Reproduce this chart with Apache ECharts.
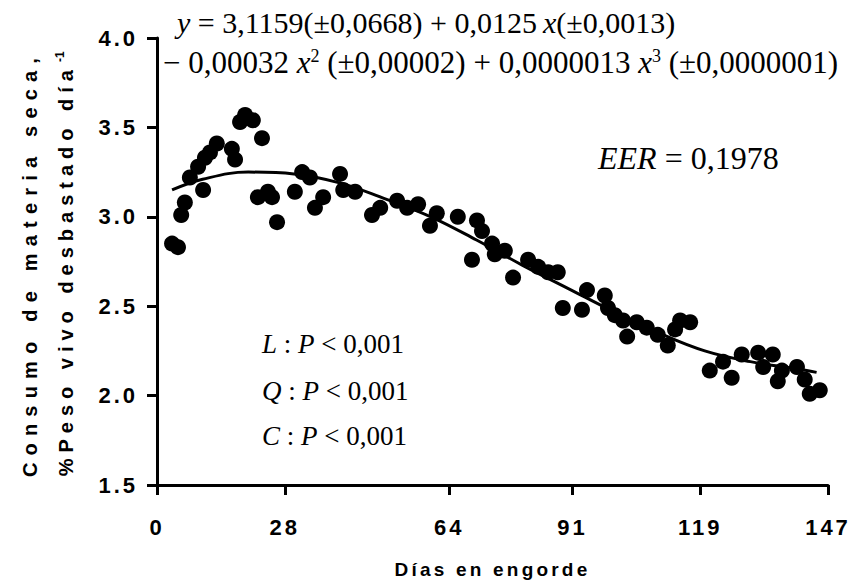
<!DOCTYPE html>
<html>
<head>
<meta charset="utf-8">
<script src="https://cdn.jsdelivr.net/npm/echarts@6/dist/echarts.min.js"></script>
<style>
  html, body { margin: 0; padding: 0; background: #fff; }
  #main { width: 854px; height: 584px; }
</style>
</head>
<body>
<div id="main"></div>
<script>
// días de engorde (x) y consumo de materia seca (y)
var dias = [3.3, 4.6, 5.3, 6.1, 7.2, 9.0, 10.1, 10.5, 11.6, 13.1,
  16.4, 17.1, 18.2, 19.3, 21.0, 23.0, 22.1, 24.3, 25.2, 26.3,
  30.2, 31.8, 33.5, 34.6, 36.4, 40.1, 40.8, 43.4, 47.1, 48.9,
  52.6, 54.8, 57.2, 59.8, 61.3, 65.9, 69.0, 70.1, 71.2, 73.4,
  74.0, 76.2, 78.0, 81.3, 83.5, 85.7, 87.8, 88.9, 93.1, 94.2,
  98.1, 98.8, 100.3, 102.1, 103.0, 105.1, 107.3, 109.7, 111.9, 113.5,
  114.6, 116.8, 121.1, 124.0, 125.9, 128.1, 131.7, 132.8, 134.9, 136.0,
  136.9, 140.2, 141.9, 143.0, 145.2];
var consumo = [2.85, 2.83, 3.01, 3.08, 3.22, 3.28, 3.15, 3.33, 3.36, 3.41,
  3.38, 3.32, 3.53, 3.57, 3.54, 3.44, 3.11, 3.14, 3.11, 2.97,
  3.14, 3.25, 3.22, 3.05, 3.11, 3.24, 3.15, 3.14, 3.01, 3.05,
  3.09, 3.05, 3.07, 2.95, 3.02, 3.00, 2.76, 2.98, 2.92, 2.85,
  2.79, 2.81, 2.66, 2.76, 2.72, 2.69, 2.69, 2.49, 2.48, 2.59,
  2.56, 2.49, 2.45, 2.42, 2.33, 2.41, 2.38, 2.34, 2.28, 2.37,
  2.42, 2.41, 2.14, 2.19, 2.10, 2.23, 2.24, 2.16, 2.23, 2.08,
  2.14, 2.16, 2.09, 2.01, 2.03];

// curva ajustada (cúbica)
var curvaDias = [3.3, 10, 20, 30, 40, 50, 60, 70, 80, 90, 100, 110, 120, 130, 140, 144.5];
var curvaConsumo = [3.15, 3.21, 3.25, 3.24, 3.19, 3.10, 3.00, 2.87, 2.73, 2.60, 2.47, 2.35, 2.25, 2.19, 2.15, 2.13];

var diasTicks = [0, 28, 64, 91, 119, 147];

var SANS = 'Liberation Sans';
var SERIF = 'Liberation Serif';

var puntos = dias.map(function (d, i) { return [d, consumo[i]]; });
var curva = curvaDias.map(function (d, i) { return [d, curvaConsumo[i]]; });

var richEq = {
  i: { fontFamily: SERIF, fontStyle: 'italic', fontSize: 30, fill: '#000' },
  n: { fontFamily: SERIF, fontSize: 30, fill: '#000' },
  sup: { fontFamily: SERIF, fontSize: 17, fill: '#000', verticalAlign: 'top' }
};
var richEq2 = {
  i: { fontFamily: SERIF, fontStyle: 'italic', fontSize: 31, fill: '#000' },
  n: { fontFamily: SERIF, fontSize: 31, fill: '#000' },
  sup: { fontFamily: SERIF, fontSize: 18, fill: '#000', verticalAlign: 'top' }
};
var richEer = {
  i: { fontFamily: SERIF, fontStyle: 'italic', fontSize: 32, fill: '#000' },
  n: { fontFamily: SERIF, fontSize: 32, fill: '#000' }
};
var richP = {
  i: { fontFamily: SERIF, fontStyle: 'italic', fontSize: 27, fill: '#000' },
  n: { fontFamily: SERIF, fontSize: 27, fill: '#000' }
};

var myChart = echarts.init(document.getElementById('main'), null, { renderer: 'svg' });

var option = {
  animation: false,
  backgroundColor: '#fff',
  grid: { left: 157, right: 26, top: 38, bottom: 99, containLabel: false, outerBoundsMode: 'none' },
  xAxis: {
    type: 'value',
    min: 0,
    max: 147,
    name: 'Días en engorde',
    nameLocation: 'middle',
    nameGap: 75,
    nameTextStyle: { fontFamily: SANS, fontWeight: 'bold', fontSize: 19, color: '#000' },
    splitLine: { show: false },
    axisLine: { show: true, lineStyle: { color: '#000', width: 3 } },
    axisTick: { show: true, length: 10, lineStyle: { color: '#000', width: 3 }, customValues: diasTicks },
    axisLabel: {
      customValues: diasTicks,
      margin: 31,
      fontFamily: SANS, fontWeight: 'bold', fontSize: 22, color: '#000'
    }
  },
  yAxis: {
    type: 'value',
    min: 1.5,
    max: 4.0,
    interval: 0.5,
    splitLine: { show: false },
    axisLine: { show: true, lineStyle: { color: '#000', width: 3 } },
    axisTick: { show: true, length: 10, lineStyle: { color: '#000', width: 3 } },
    axisLabel: {
      margin: 19,
      fontFamily: SANS, fontWeight: 'bold', fontSize: 22, color: '#000',
      formatter: function (v) { return v.toFixed(1); }
    }
  },
  series: [
    {
      name: 'observado',
      type: 'scatter',
      symbol: 'circle',
      symbolSize: 16,
      itemStyle: { color: '#000', opacity: 1 },
      data: puntos
    },
    {
      name: 'ajuste',
      type: 'line',
      smooth: 0.4,
      symbol: 'none',
      lineStyle: { color: '#000', width: 3 },
      data: curva
    }
  ],
  graphic: [
    {
      type: 'text', x: 177, y: 22,
      style: {
        text: '{i|y}{n| = 3,1159(±0,0668) + 0,0125\u2009}{i|x}{n|(±0,0013)}',
        rich: richEq, align: 'left', verticalAlign: 'middle'
      }
    },
    {
      type: 'text', x: 163, y: 62,
      style: {
        text: '{n|− 0,00032 }{i|x}{sup|2}{n| (±0,00002) + 0,0000013 }{i|x}{sup|3}{n| (±0,0000001)}',
        rich: richEq2, align: 'left', verticalAlign: 'middle'
      }
    },
    {
      type: 'text', x: 598, y: 158,
      style: {
        text: '{i|EER}{n| = 0,1978}',
        rich: richEer, align: 'left', verticalAlign: 'middle'
      }
    },
    {
      type: 'text', x: 262, y: 344,
      style: { text: '{i|L}{n| : }{i|P}{n| < 0,001}', rich: richP, align: 'left', verticalAlign: 'middle' }
    },
    {
      type: 'text', x: 262, y: 391,
      style: { text: '{i|Q}{n| : }{i|P}{n| < 0,001}', rich: richP, align: 'left', verticalAlign: 'middle' }
    },
    {
      type: 'text', x: 262, y: 436,
      style: { text: '{i|C}{n| : }{i|P}{n| < 0,001}', rich: richP, align: 'left', verticalAlign: 'middle' }
    },
    // título del eje y, dos líneas giradas
    {
      type: 'text', x: 30, y: 264, rotation: Math.PI / 2,
      style: {
        text: 'Consumo de materia seca,', fill: '#000',
        fontFamily: SANS, fontWeight: 'bold', fontSize: 20,
        align: 'center', verticalAlign: 'middle'
      }
    },
    {
      type: 'text', x: 66, y: 64, rotation: Math.PI / 2,
      style: {
        text: '%Peso vivo desbastado día', fill: '#000',
        fontFamily: SANS, fontWeight: 'bold', fontSize: 20,
        align: 'right', verticalAlign: 'middle'
      }
    },
    {
      type: 'text', x: 60, y: 62, rotation: Math.PI / 2,
      style: {
        text: '-1', fill: '#000',
        fontFamily: SANS, fontWeight: 'bold', fontSize: 12,
        align: 'left', verticalAlign: 'middle'
      }
    }
  ]
};

myChart.setOption(option);

// espaciado de letras como en la figura original
function espaciado() {
  var textos = document.querySelectorAll('#main text');
  textos.forEach(function (t) {
    var s = t.textContent;
    var sp = null;
    if (s === 'Consumo de materia seca,') sp = '7.2px';
    else if (s === '%Peso vivo desbastado día') sp = '6px';
    else if (s === 'Días en engorde') sp = '3.2px';
    else if (/^[0-9.]+$/.test(s) && t.getAttribute('style') && t.getAttribute('style').indexOf('Liberation Sans') >= 0) sp = '3px';
    if (sp) t.setAttribute('letter-spacing', sp);
  });
}
espaciado();
myChart.on('finished', espaciado);

window.addEventListener('resize', function () {
  myChart.resize();
});
</script>
</body>
</html>
